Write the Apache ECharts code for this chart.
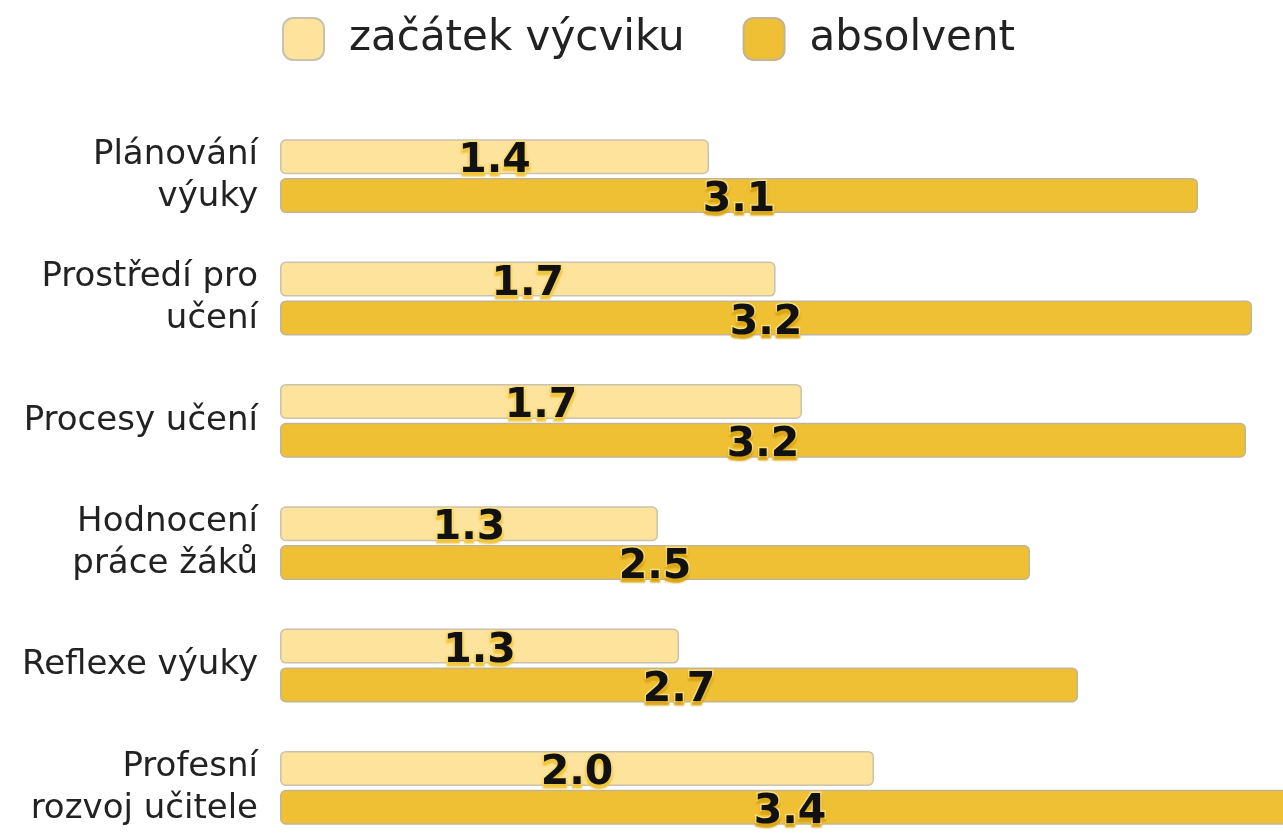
<!DOCTYPE html>
<html>
<head>
<meta charset="utf-8">
<script src="https://cdn.jsdelivr.net/npm/echarts@6/dist/echarts.min.js"></script>
<style>
  html, body { margin: 0; padding: 0; background: #fff; }
  #main { width: 1283px; height: 833px; }
</style>
</head>
<body>
<div id="main"></div>
<script>
// kategorie (shora dolu)
var categories = ['Plánování\nvýuky', 'Prostředí pro\nučení', 'Procesy učení', 'Hodnocení\npráce žáků', 'Reflexe výuky', 'Profesní\nrozvoj učitele'];
// hodnoty
var zacatek = [1.43, 1.652, 1.74, 1.26, 1.33, 1.98];
var absolvent = [3.06, 3.24, 3.22, 2.50, 2.66, 3.40];
var seriesNames = ['začátek výcviku', 'absolvent'];

var font = 'DejaVu Sans';

function valueLabel(shadow) {
	return {
		show: true,
		position: 'inside',
		offset: [0, 5],
		formatter: function (p) { return p.value.toFixed(1); },
		fontFamily: font,
		fontWeight: 'bold',
		fontSize: 41,
		color: '#111',
		textBorderColor: '#f8dc78',
		textBorderWidth: 3,
		textShadowColor: shadow,
		textShadowOffsetY: 3,
		textShadowBlur: 2
	};
}

var myChart = echarts.init(document.getElementById('main'));
var option = {
	animation: false,
	legend: {
		left: 277,
		top: 12,
		itemWidth: 41,
		itemHeight: 42,
		itemGap: 58,
		icon: 'roundRect',
		textStyle: {
			fontFamily: font,
			fontSize: 42,
			color: '#222',
			padding: [0, 0, 0, 20]
		},
		data: seriesNames
	},
	grid: {
		left: 280,
		top: 115,
		width: 1200,
		height: 734,
		outerBoundsMode: 'none'
	},
	xAxis: {
		type: 'value',
		min: 0,
		max: 4,
		show: false
	},
	yAxis: {
		type: 'category',
		inverse: true,
		data: categories,
		axisLine: { show: false },
		axisTick: { show: false },
		axisLabel: {
			margin: 22,
			fontFamily: font,
			fontSize: 34,
			lineHeight: 42,
			color: '#222'
		}
	},
	series: [
		{
			name: seriesNames[0],
			type: 'bar',
			barWidth: 35,
			barGap: '11%',
			itemStyle: {
				color: '#fde39b',
				borderColor: '#c9c2ae',
				borderWidth: 1.5,
				borderRadius: 5
			},
			label: valueLabel('#f0c53a'),
			data: zacatek
		},
		{
			name: seriesNames[1],
			type: 'bar',
			barWidth: 35,
			barGap: '11%',
			itemStyle: {
				color: '#efc033',
				borderColor: '#c2b596',
				borderWidth: 1.5,
				borderRadius: 5
			},
			label: valueLabel('#d9a514'),
			data: absolvent
		}
	]
};
myChart.setOption(option);
</script>
</body>
</html>
